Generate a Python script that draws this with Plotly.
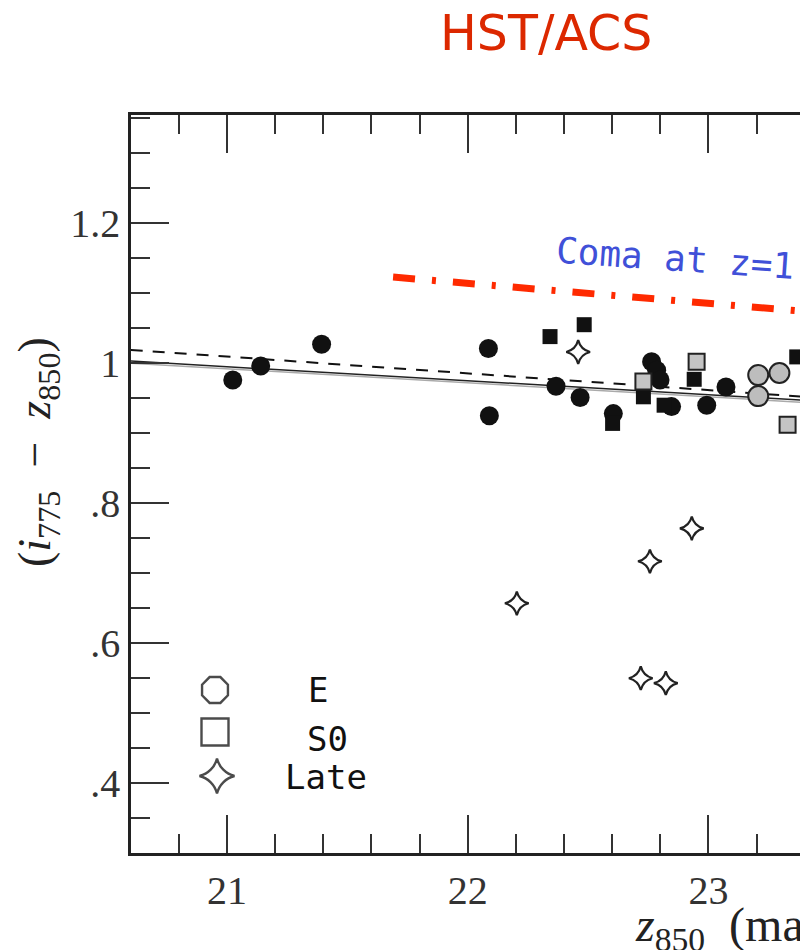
import plotly.graph_objects as go

# ---------------- data ----------------
E_black_x = [21.024, 21.140, 21.393, 22.086, 22.090, 22.367, 22.467, 22.605, 22.764, 22.785, 22.799, 22.847, 22.993, 23.073]
E_black_y = [0.975, 0.995, 1.026, 1.020, 0.924, 0.966, 0.950, 0.927, 1.001, 0.989, 0.975, 0.937, 0.939, 0.965]
E_gray_x = [23.207, 23.295, 23.207]
E_gray_y = [0.982, 0.985, 0.952]
S0_black_x = [22.342, 22.484, 22.602, 22.730, 22.816, 22.941, 23.367]
S0_black_y = [1.037, 1.054, 0.913, 0.951, 0.939, 0.976, 1.008]
S0_gray_x = [22.730, 22.951, 23.329]
S0_gray_y = [0.973, 1.001, 0.911]
late_x = [22.459, 22.204, 22.757, 22.931, 22.719, 22.823]
late_y = [1.015, 0.656, 0.716, 0.763, 0.549, 0.542]

fit_x = [20.6, 23.4]
fit_solid_y = [1.002, 0.946]
fit_dashed_y = [1.018, 0.951]
coma_x = [21.69, 23.4]
coma_y = [1.122, 1.073]

y_tickvals = [0.4, 0.6, 0.8, 1.0, 1.2]
y_ticktext = [".4", ".6", ".8", "1", "1.2"]
x_tickvals = [21, 22, 23]
x_ticktext = ["21", "22", "23"]

legend_labels = ["E", "S0", "Late"]

# ---------------- layout constants ----------------
W, H = 800, 950
L, R, T, B = 131, 0, 115, 97
X0_PX, PX_PER_MAG = 227.0, 240.7      # pixel of x=21, px per mag
Y1_PX, PX_PER_COL = 362.5, 700.0      # pixel of y=1.0, px per unit colour

x_range = [21 + (L - X0_PX) / PX_PER_MAG, 21 + (W - R - X0_PX) / PX_PER_MAG]
y_range = [1 - (H - B - Y1_PX) / PX_PER_COL, 1 + (Y1_PX - T) / PX_PER_COL]


def pxx(x):
    return (x - L) / (W - L - R)


def pxy(y):
    return (H - B - y) / (H - T - B)


fig = go.Figure()

# fit lines
fig.add_trace(go.Scatter(x=fit_x, y=fit_dashed_y, mode="lines",
                         line=dict(color="#111", width=2, dash="12px,10px"),
                         hoverinfo="skip", showlegend=False))
fig.add_trace(go.Scatter(x=fit_x, y=[v - 0.003 for v in fit_solid_y], mode="lines",
                         line=dict(color="#aaa", width=1.5),
                         hoverinfo="skip", showlegend=False))
fig.add_trace(go.Scatter(x=fit_x, y=fit_solid_y, mode="lines",
                         line=dict(color="#222", width=1.5),
                         hoverinfo="skip", showlegend=False))
# Coma relation
fig.add_trace(go.Scatter(x=coma_x, y=coma_y, mode="lines",
                         line=dict(color="#ff2a00", width=7, dash="22px,17px,4px,17px"),
                         hoverinfo="skip", showlegend=False))

# points
fig.add_trace(go.Scatter(x=E_black_x, y=E_black_y, mode="markers", name="E",
                         marker=dict(symbol="circle", size=19, color="#111",
                                     line=dict(color="#000", width=0)),
                         showlegend=False))
fig.add_trace(go.Scatter(x=E_gray_x, y=E_gray_y, mode="markers", name="E (gray)",
                         marker=dict(symbol="circle", size=20, color="#bdbdbd",
                                     line=dict(color="#222", width=2)),
                         showlegend=False))
fig.add_trace(go.Scatter(x=S0_black_x, y=S0_black_y, mode="markers", name="S0",
                         marker=dict(symbol="square", size=15, color="#111",
                                     line=dict(color="#000", width=0)),
                         showlegend=False))
fig.add_trace(go.Scatter(x=S0_gray_x, y=S0_gray_y, mode="markers", name="S0 (gray)",
                         marker=dict(symbol="square", size=16, color="#c4c4c4",
                                     line=dict(color="#222", width=2)),
                         showlegend=False))
fig.add_trace(go.Scatter(x=late_x, y=late_y, mode="markers", name="Late",
                         marker=dict(symbol="star-diamond", size=17, color="white",
                                     line=dict(color="#222", width=2.2)),
                         showlegend=False))

# hand-drawn style key, on an overlay axis in pixel units
legend_px_x = [215, 215, 217]
legend_px_y = [690, 732, 776]
legend_symbols = ["octagon", "square", "star-diamond"]
legend_sizes = [28, 27, 25]
fig.add_trace(go.Scatter(x=legend_px_x, y=legend_px_y, mode="markers",
                         xaxis="x2", yaxis="y2",
                         marker=dict(symbol=legend_symbols, size=legend_sizes,
                                     color="white", line=dict(width=2.4, color="#000")),
                         hoverinfo="skip", showlegend=False))

tickfont = dict(family="Liberation Serif", size=40, color="#333")

fig.update_layout(
    width=W, height=H,
    margin=dict(l=L, r=R, t=T, b=B, pad=0),
    paper_bgcolor="white", plot_bgcolor="white",
    xaxis=dict(range=x_range, tickmode="array", tickvals=x_tickvals, ticktext=x_ticktext,
               mirror="ticks", showgrid=False, zeroline=False, showline=True,
               linecolor="#222", linewidth=2.5,
               ticks="inside", ticklen=38, tickwidth=2, tickcolor="#333", tickfont=tickfont,
               minor=dict(ticks="inside", tickmode="linear", tick0=20.8, dtick=0.2,
                          ticklen=19, tickwidth=2, tickcolor="#333")),
    yaxis=dict(range=y_range, tickmode="array", tickvals=y_tickvals, ticktext=y_ticktext,
               mirror=False, showgrid=False, zeroline=False, showline=True,
               linecolor="#222", linewidth=2.5,
               ticks="inside", ticklen=38, tickwidth=2, tickcolor="#333", tickfont=tickfont,
               minor=dict(ticks="inside", tickmode="linear", tick0=0.3, dtick=0.05,
                          ticklen=19, tickwidth=2, tickcolor="#333")),
    xaxis2=dict(range=[L, W - R], overlaying="x", visible=False),
    yaxis2=dict(range=[H - B, T], overlaying="y", visible=False),
    showlegend=False,
)

annotations = [
    dict(text="HST/ACS", x=pxx(546), y=pxy(34), xanchor="center", yanchor="middle",
         font=dict(family="DejaVu Sans", size=49, color="#dc2800")),
    dict(text="Coma at z=1.24", x=pxx(707), y=pxy(260), xanchor="center", yanchor="middle",
         textangle=4, font=dict(family="DejaVu Sans Mono", size=36, color="#4050d8")),
    dict(text="<i>z</i><sub>850</sub>\u2002(mag)", x=pxx(633), y=pxy(928), xanchor="left",
         yanchor="middle", font=dict(family="Liberation Serif", size=48, color="#222")),
    dict(text="(<i>i</i><sub>775</sub>\u2002\u2212\u2002<i>z</i><sub>850</sub>)",
         x=pxx(38), y=pxy(452), xanchor="center", yanchor="middle", textangle=-90,
         font=dict(family="Liberation Serif", size=46, color="#222")),
]
legend_text_px = [(318, 690), (327, 739), (326, 777)]
for lab, (tx, ty) in zip(legend_labels, legend_text_px):
    annotations.append(dict(text=lab, x=pxx(tx), y=pxy(ty), xanchor="center", yanchor="middle",
                            font=dict(family="DejaVu Sans Mono", size=34, color="#111")))
for a in annotations:
    a.update(xref="paper", yref="paper", showarrow=False)
fig.update_layout(annotations=annotations)

fig.write_html("out.html")
